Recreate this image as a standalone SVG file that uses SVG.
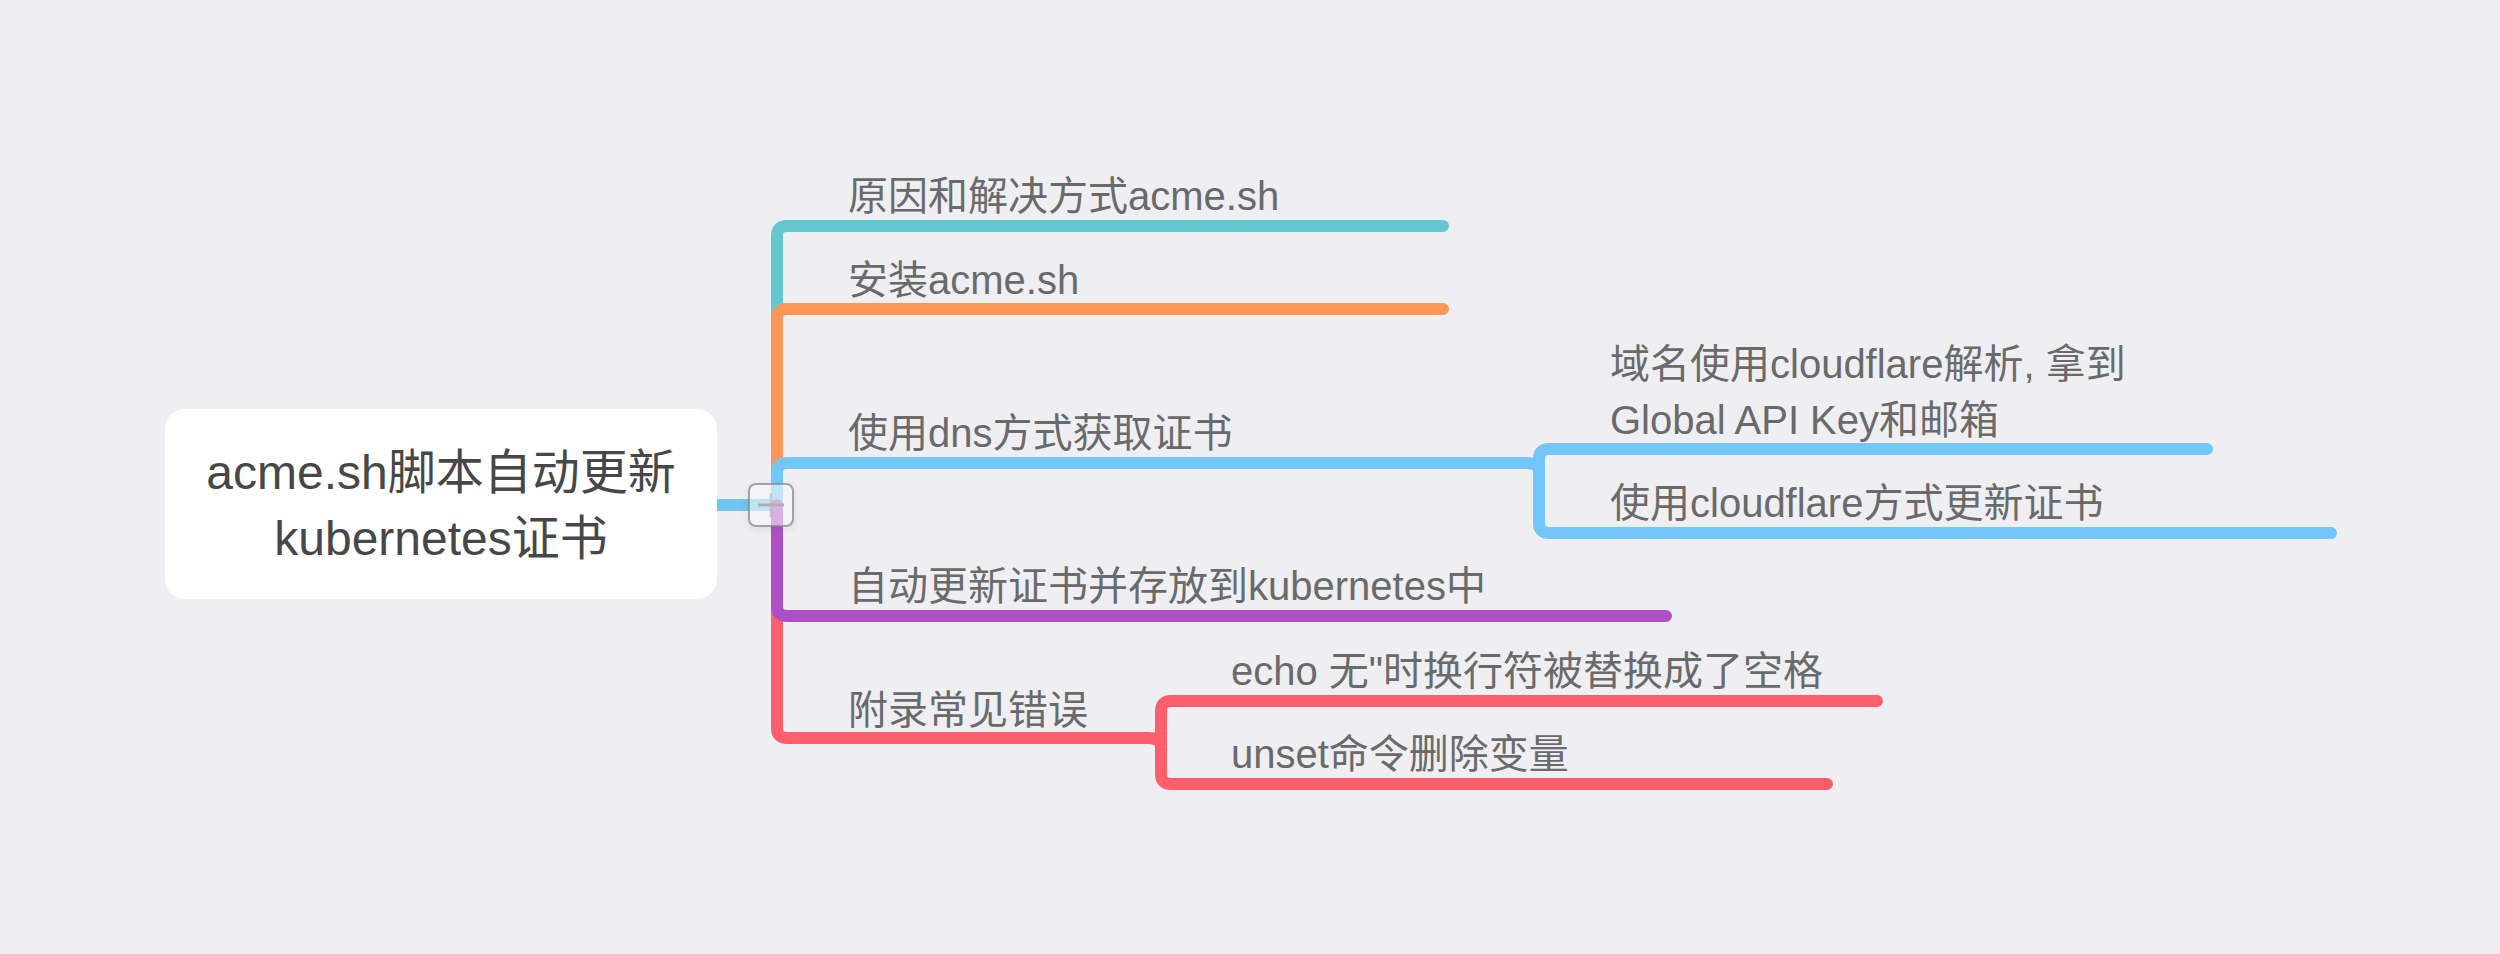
<svg xmlns="http://www.w3.org/2000/svg" width="2500" height="954" viewBox="0 0 2500 954">
<defs>
<style>
.bg{fill:#EEEEF3}
.conn{fill:none;stroke-width:12;stroke-linecap:round;stroke-linejoin:round}
.t{font-family:"Liberation Sans","Noto Sans CJK SC",sans-serif;font-size:40px;fill:#6a6a6a}
.root{font-family:"Liberation Sans","Noto Sans CJK SC",sans-serif;font-size:48px;fill:#474747;text-anchor:middle}
</style>
<filter id="sh" x="-30%" y="-30%" width="160%" height="160%">
<feDropShadow dx="0" dy="2" stdDeviation="3" flood-color="#000" flood-opacity="0.12"/>
</filter>
</defs>
<rect class="bg" x="0" y="0" width="2500" height="954"/>

<g id="connectors">
<path class="conn" stroke="#6EC6F1" stroke-width="11" d="M717,505 H777"/>
<path class="conn" stroke="#63C7CF" d="M777,505 V236 Q777,226 787,226 H1443"/>
<path class="conn" stroke="#FE9658" d="M777,505 V319 Q777,309 787,309 H1443"/>
<path class="conn" stroke="#FE5F6B" d="M777,505 V728 Q777,738 787,738 H1148 Q1158,738 1161,744"/>
<path class="conn" stroke="#FE5F6B" d="M1161,738 V711 Q1161,701 1171,701 H1877"/>
<path class="conn" stroke="#FE5F6B" d="M1161,738 V774 Q1161,784 1171,784 H1827"/>
<path class="conn" stroke="#73C6FC" d="M777,505 V473 Q777,463 787,463 H1526 Q1536,463 1539,469"/>
<path class="conn" stroke="#73C6FC" d="M1539,463 V459 Q1539,449 1549,449 H2207"/>
<path class="conn" stroke="#73C6FC" d="M1539,463 V523 Q1539,533 1549,533 H2331"/>
<path class="conn" stroke="#AC50C6" d="M777,505 V606 Q777,616 787,616 H1666"/>
</g>

<g id="root">
<rect x="165" y="409" width="552" height="190" rx="20" ry="20" fill="#FFFFFF"/>
<text class="root" x="441" y="489">acme.sh脚本自动更新</text>
<text class="root" x="441" y="555">kubernetes证书</text>
</g>

<g id="collapse">
<rect x="749" y="484" width="44" height="42" rx="7" ry="7" fill="#FFFFFF" fill-opacity="0.55" stroke="#8a8a8a" stroke-opacity="0.75" stroke-width="2" filter="url(#sh)"/>
<line x1="758" y1="505" x2="784" y2="505" stroke="#b0b0b0" stroke-width="3"/>
<line x1="771" y1="493" x2="771" y2="517" stroke="#b0b0b0" stroke-opacity="0.5" stroke-width="3"/>
</g>

<g id="n1"><text class="t" x="848" y="210">原因和解决方式acme.sh</text></g>
<g id="n2"><text class="t" x="848" y="294">安装acme.sh</text></g>
<g id="n3"><text class="t" x="848" y="447">使用dns方式获取证书</text></g>
<g id="n3a">
<text class="t" x="1610" y="378">域名使用cloudflare解析, 拿到</text>
<text class="t" x="1610" y="434">Global API Key和邮箱</text>
</g>
<g id="n3b"><text class="t" x="1610" y="517">使用cloudflare方式更新证书</text></g>
<g id="n4"><text class="t" x="848" y="600">自动更新证书并存放到kubernetes中</text></g>
<g id="n5"><text class="t" x="848" y="724">附录常见错误</text></g>
<g id="n5a"><text class="t" x="1231" y="685">echo 无"时换行符被替换成了空格</text></g>
<g id="n5b"><text class="t" x="1231" y="768">unset命令删除变量</text></g>
</svg>
